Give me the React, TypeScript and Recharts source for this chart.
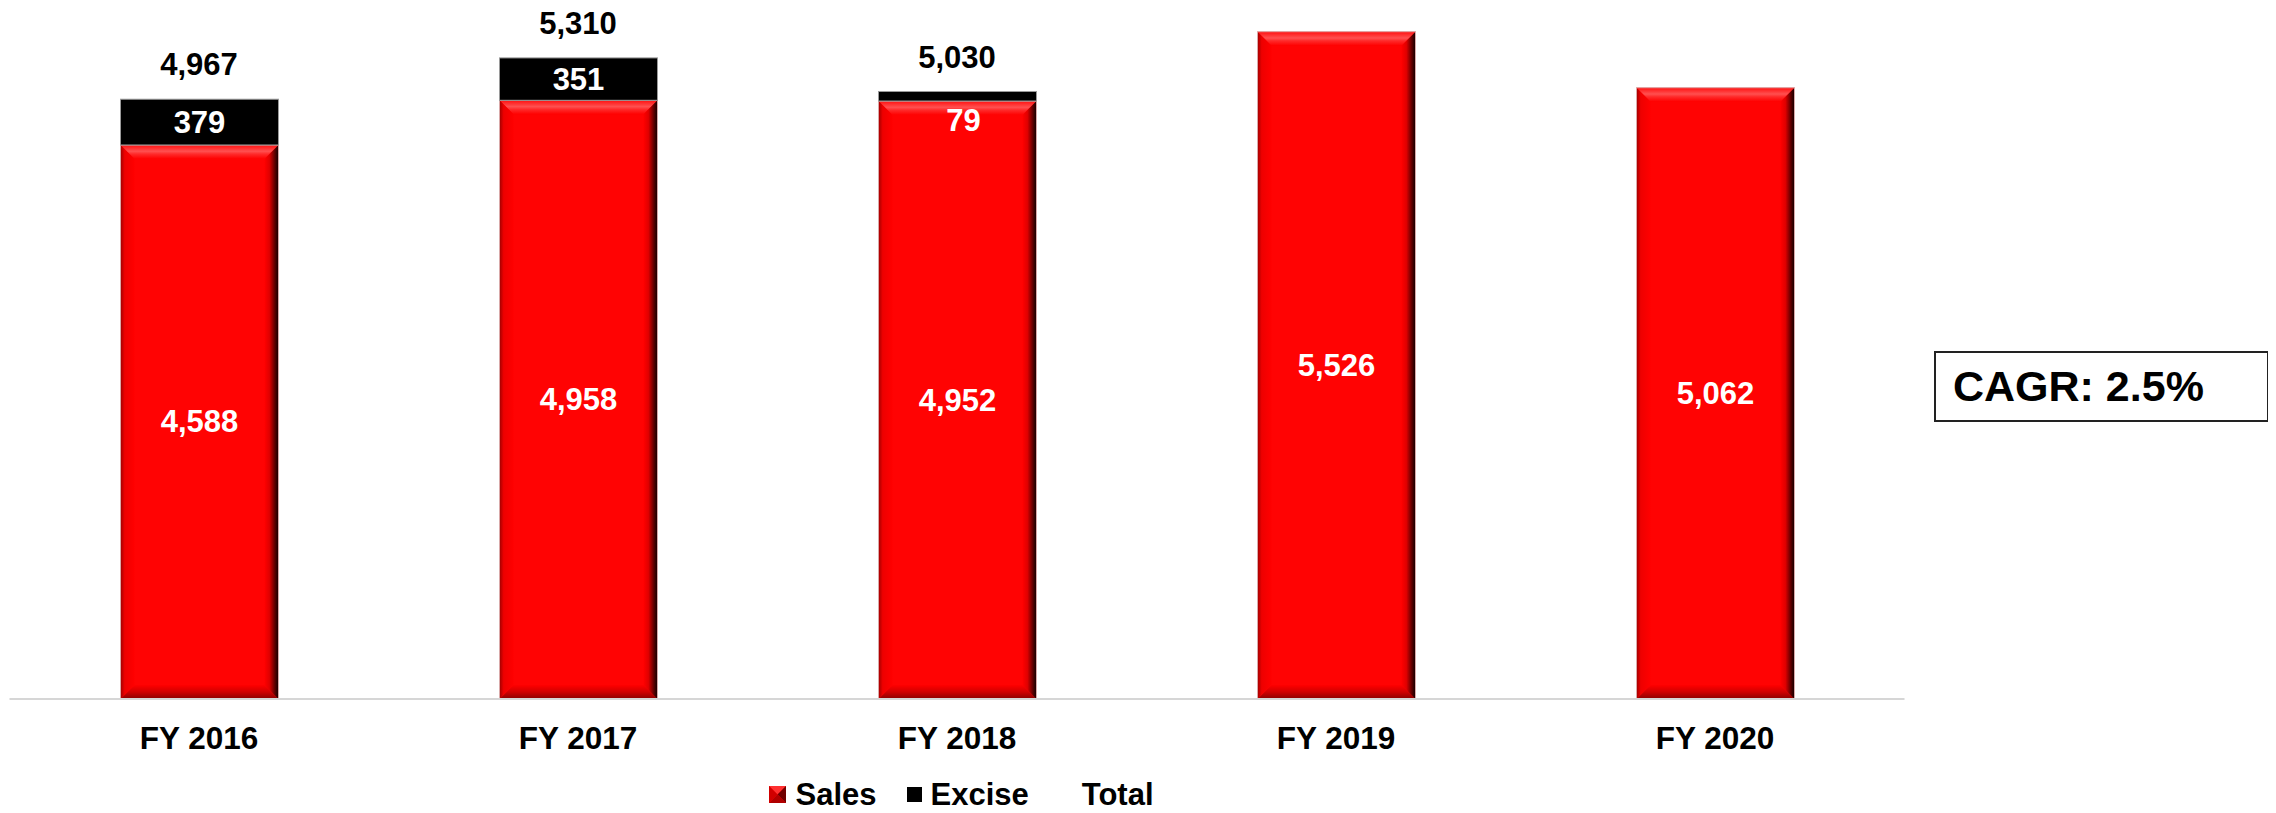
import React from 'react';
import { ComposedChart, Bar, Line, XAxis, YAxis, LabelList, Legend } from 'recharts';

const categories = ['FY 2016', 'FY 2017', 'FY 2018', 'FY 2019', 'FY 2020'];
const salesValues = [4588, 4958, 4952, 5526, 5062];
const exciseValues: (number | null)[] = [379, 351, 79, null, null];
const totalValues: (number | null)[] = [4967, 5310, 5030, null, null];
const cagrText = 'CAGR: 2.5%';

const data = categories.map((c, i) => ({
  name: c,
  sales: salesValues[i],
  excise: exciseValues[i],
  total: totalValues[i],
}));

const FONT = "'Liberation Sans', Arial, Helvetica, sans-serif";
const fmt = (v: number) => v.toLocaleString('en-US');

const SalesShape = (props: any) => {
  const { x, y, width: w, height: h, index } = props;
  if (w == null || h == null || h <= 0) return null;
  const b = Math.min(14, w / 2, h / 2);
  const id = `s${index}`;
  return (
    <g>
      <defs>
        <linearGradient id={`${id}t`} x1="0" y1="0" x2="0" y2="1">
          <stop offset="0" stopColor="#ff1010" />
          <stop offset="0.45" stopColor="#ff5050" />
          <stop offset="0.65" stopColor="#ff2a2a" />
          <stop offset="1" stopColor="#ff0000" />
        </linearGradient>
        <linearGradient id={`${id}r`} x1="0" y1="0" x2="1" y2="0">
          <stop offset="0" stopColor="#ff0000" />
          <stop offset="0.35" stopColor="#e00000" />
          <stop offset="0.75" stopColor="#5a0000" />
          <stop offset="1" stopColor="#100000" />
        </linearGradient>
        <linearGradient id={`${id}l`} x1="0" y1="0" x2="1" y2="0">
          <stop offset="0" stopColor="#a00000" />
          <stop offset="0.3" stopColor="#ee0000" />
          <stop offset="1" stopColor="#ff0000" />
        </linearGradient>
        <linearGradient id={`${id}b`} x1="0" y1="0" x2="0" y2="1">
          <stop offset="0" stopColor="#ff0000" />
          <stop offset="0.5" stopColor="#d00000" />
          <stop offset="1" stopColor="#8a0000" />
        </linearGradient>
      </defs>
      <rect x={x} y={y} width={w} height={h} fill="#ff0303" />
      <polygon
        points={`${x},${y} ${x + w},${y} ${x + w - b},${y + b} ${x + b},${y + b}`}
        fill={`url(#${id}t)`}
      />
      <polygon
        points={`${x},${y + h} ${x + w},${y + h} ${x + w - b},${y + h - b} ${x + b},${y + h - b}`}
        fill={`url(#${id}b)`}
      />
      <polygon
        points={`${x},${y} ${x + b},${y + b} ${x + b},${y + h - b} ${x},${y + h}`}
        fill={`url(#${id}l)`}
      />
      <polygon
        points={`${x + w},${y} ${x + w},${y + h} ${x + w - b},${y + h - b} ${x + w - b},${y + b}`}
        fill={`url(#${id}r)`}
      />
      <rect x={x} y={y} width={w} height={h} fill="none" stroke="#d9a9a9" strokeWidth={1} />
    </g>
  );
};

const ExciseShape = (props: any) => {
  const { x, y, width: w, height: h } = props;
  if (w == null || h == null || h <= 0) return null;
  return <rect x={x} y={y} width={w} height={h} fill="#000" stroke="#9a9a9a" strokeWidth={1} />;
};

const getBox = (props: any) => {
  const vb = props.viewBox || {};
  return {
    x: props.x ?? vb.x ?? 0,
    y: props.y ?? vb.y ?? 0,
    width: props.width ?? vb.width ?? 0,
    height: props.height ?? vb.height ?? 0,
  };
};

const InsideLabel = (props: any) => {
  const { value } = props;
  if (value == null) return null;
  const { x, y, width, height } = getBox(props);
  const small = Math.abs(height) < 20;
  const cx = x + width / 2 + (small ? 6 : 0);
  const cy = y + height / 2 + (small ? 24 : 0);
  return (
    <text
      x={cx}
      y={cy}
      textAnchor="middle"
      dominantBaseline="central"
      fill="#fff"
      fontFamily={FONT}
      fontWeight="bold"
      fontSize={31}
    >
      {fmt(Number(value))}
    </text>
  );
};

const TotalLabel = (props: any) => {
  const { value } = props;
  if (value == null) return null;
  const { x, y, width } = getBox(props);
  return (
    <text
      x={x + (width || 0) / 2}
      y={y - 24}
      textAnchor="middle"
      fill="#000"
      fontFamily={FONT}
      fontWeight="bold"
      fontSize={31}
    >
      {fmt(Number(value))}
    </text>
  );
};

const LegendContent = () => (
  <div
    style={{
      height: 40,
      boxSizing: 'border-box',
      paddingTop: 19,
      paddingLeft: 9,
      display: 'flex',
      justifyContent: 'center',
      alignItems: 'center',
      fontFamily: FONT,
      fontWeight: 'bold',
      fontSize: 31,
      lineHeight: '32px',
      color: '#000',
    }}
  >
    <svg width={17} height={17} style={{ marginRight: 9 }}>
      <rect x={0} y={0} width={17} height={17} fill="#ff0000" />
      <polygon points="0,0 17,0 8.5,8.5" fill="#ff3030" />
      <polygon points="17,0 17,17 8.5,8.5" fill="#700000" />
      <polygon points="0,17 17,17 8.5,8.5" fill="#b00000" />
      <polygon points="0,0 0,17 8.5,8.5" fill="#d00000" />
    </svg>
    <span style={{ marginRight: 30 }}>Sales</span>
    <svg width={15} height={15} style={{ marginRight: 9 }}>
      <rect x={0} y={0} width={15} height={15} fill="#000" />
    </svg>
    <span style={{ marginRight: 53 }}>Excise</span>
    <span>Total</span>
  </div>
);

export default function App() {
  return (
    <div style={{ position: 'relative', width: 2260, height: 805, marginTop: -8, fontFamily: FONT }}>
      <ComposedChart
        width={2260}
        height={805}
        data={data}
        margin={{ top: 10.7, right: 363.5, left: 1.5, bottom: 0 }}
        style={{ overflow: 'visible' }}
      >
        <XAxis
          dataKey="name"
          height={66}
          tickLine={false}
          tickSize={6}
          tickMargin={22}
          axisLine={{ stroke: '#d6d6d6', strokeWidth: 2 }}
          tick={{ fontSize: 31.5, fontWeight: 'bold', fill: '#000', fontFamily: FONT }}
          interval={0}
        />
        <YAxis hide domain={[0, 5700]} />
        <Legend verticalAlign="bottom" content={<LegendContent />} />
        <Bar dataKey="sales" stackId="a" barSize={158} shape={<SalesShape />} isAnimationActive={false}>
          <LabelList dataKey="sales" content={<InsideLabel />} />
        </Bar>
        <Bar dataKey="excise" stackId="a" barSize={158} shape={<ExciseShape />} isAnimationActive={false}>
          <LabelList dataKey="excise" content={<InsideLabel />} />
        </Bar>
        <Line
          dataKey="total"
          stroke="none"
          dot={false}
          activeDot={false}
          isAnimationActive={false}
        >
          <LabelList dataKey="total" content={<TotalLabel />} />
        </Line>
      </ComposedChart>
      <div
        style={{
          position: 'absolute',
          left: 1926,
          top: 351,
          width: 335,
          height: 71,
          boxSizing: 'border-box',
          border: '2px solid #222',
          display: 'flex',
          alignItems: 'center',
          paddingLeft: 17,
          fontFamily: FONT,
          fontWeight: 'bold',
          fontSize: 43,
          color: '#000',
          background: '#fff',
        }}
      >
        {cagrText}
      </div>
    </div>
  );
}
